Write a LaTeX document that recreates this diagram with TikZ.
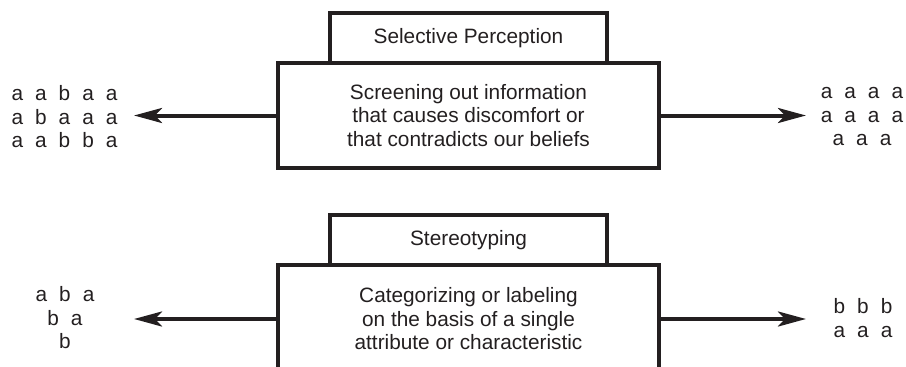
\documentclass[tikz,border=0pt]{standalone}
\usepackage{fontspec}
\setmainfont{Liberation Sans}
\usetikzlibrary{arrows.meta}
\definecolor{ink}{HTML}{231F20}
% gap between the letters of the sample groups
\newcommand\lgap{\hspace{12pt}}
\begin{document}
\begin{tikzpicture}[x=1pt,y=-1pt,
  every node/.style={font=\fontsize{20.8}{23.5}\selectfont, text=ink},
  titlebox/.style={draw=ink, line width=3.3pt, minimum width=277pt,
    minimum height=50pt, inner sep=0pt},
  mainbox/.style={draw=ink, line width=3.3pt, minimum width=381pt,
    align=center, inner sep=0pt},
  letters/.style={align=center, inner sep=0pt},
  arr/.style={draw=ink, line width=4pt,
    -{Stealth[length=28pt,width=15pt,inset=7pt]}}]
\useasboundingbox (0,0) rectangle (906,367);
\clip (0,0) rectangle (906,367);

% --- Selective perception ---
\node[mainbox, minimum height=105pt] (main1) at (468.5,115.5)
  {Screening out information\\that causes discomfort or\\that contradicts our beliefs};
\node[titlebox] (title1) at (468.5,38) {Selective Perception};
\node[letters] (in1) at (64.5,117)
  {a\lgap a\lgap b\lgap a\lgap a\\a\lgap b\lgap a\lgap a\lgap a\\a\lgap a\lgap b\lgap b\lgap a};
\node[letters] (out1) at (862,117)
  {a\lgap a\lgap a\lgap a\\a\lgap a\lgap a\lgap a\\a\lgap a\lgap a};
\coordinate (tip1l) at (134,115.5);
\coordinate (tip1r) at (806,115.5);
\draw[arr] (main1.west) -- (tip1l);
\draw[arr] (main1.east) -- (tip1r);

% --- Stereotyping ---
\node[mainbox, minimum height=108pt] (main2) at (468.5,319)
  {Categorizing or labeling\\on the basis of a single\\attribute or characteristic};
\node[titlebox] (title2) at (468.5,240) {Stereotyping};
\node[letters] (in2) at (65,318)
  {a\lgap b\lgap a\\b\lgap a\\b};
\node[letters] (out2) at (863,318)
  {b\lgap b\lgap b\\a\lgap a\lgap a};
\coordinate (tip2l) at (134,319);
\coordinate (tip2r) at (806,319);
\draw[arr] (main2.west) -- (tip2l);
\draw[arr] (main2.east) -- (tip2r);
\end{tikzpicture}
\end{document}
